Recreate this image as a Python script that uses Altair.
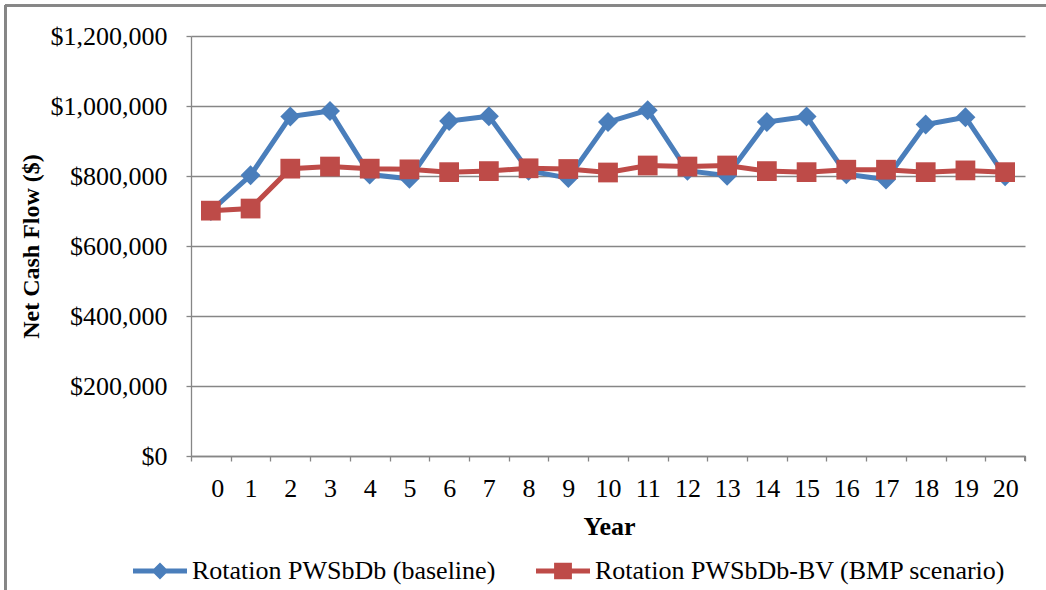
import altair as alt
import pandas as pd

# Net cash flow by year for the two crop rotations
years = list(range(21))
baseline = [700000, 802000, 970000, 986000, 804000, 792000, 957000, 971000,
            815000, 794000, 954000, 988000, 815000, 801000, 954000, 970000,
            805000, 790000, 947000, 968000, 799000]
bmp = [701000, 707000, 821000, 827000, 821000, 819000, 811000, 814000,
       822000, 820000, 810000, 830000, 827000, 830000, 814000, 811000,
       818000, 818000, 811000, 816000, 811000]

series_names = ["Rotation PWSbDb (baseline)", "Rotation PWSbDb-BV (BMP scenario)"]
colors = ["#4A7EBB", "#BE4B48"]

df = pd.concat([
    pd.DataFrame({"Year": years, "Value": baseline, "Series": series_names[0]}),
    pd.DataFrame({"Year": years, "Value": bmp, "Series": series_names[1]}),
])

FONT = "Liberation Serif"
AXIS_GRAY = "#868686"
W, H = 834, 420

x_enc = alt.X(
    "Year:Q",
    scale=alt.Scale(domain=[-0.5, 20.5], nice=False, zero=False),
    axis=alt.Axis(
        title="Year",
        values=[i - 0.5 for i in range(22)],
        labelExpr="datum.value > 20 ? '' : format(datum.value + 0.5, 'd')",
        labelOffset=W / 21 / 2,
        labelPadding=14,
        tickSize=5,
        grid=False,
        titleX=418,
        titleY=78,
        titleBaseline="alphabetic",
        titleFont=FONT,
        titleFontSize=26,
        titleFontWeight="bold",
    ),
)
y_enc = alt.Y(
    "Value:Q",
    scale=alt.Scale(domain=[0, 1200000], nice=False),
    axis=alt.Axis(
        title="Net Cash Flow ($)",
        values=[0, 200000, 400000, 600000, 800000, 1000000, 1200000],
        format="$,.0f",
        labelPadding=19,
        tickSize=5,
        grid=True,
        titleX=-153,
        titleY=H / 2,
        titleBaseline="alphabetic",
        titleFont=FONT,
        titleFontSize=24,
        titleFontWeight="bold",
    ),
)

base = alt.Chart(df)


def series_layers(name, color, shape, size):
    sub = base.transform_filter(alt.datum.Series == name)
    line = sub.mark_line(color=color, strokeWidth=5).encode(x=x_enc, y=y_enc)
    pts = sub.mark_point(filled=True, color=color, shape=shape, size=size,
                         opacity=1, strokeWidth=0).encode(x=x_enc, y=y_enc)
    return [line, pts]


# Legend symbols: a short line with the series marker across it
diamond_line = ("M-1,-0.093L1,-0.093L1,0.093L-1,0.093Z "
                "M0,-0.315L0.315,0L0,0.315L-0.315,0Z")
square_line = ("M-1,-0.093L1,-0.093L1,0.093L-1,0.093Z "
               "M-0.33,-0.31L0.33,-0.31L0.33,0.31L-0.33,0.31Z")

legend_props = dict(
    title=None, orient="none", direction="horizontal",
    legendX=-58, legendY=508, padding=0,
    symbolSize=2916, symbolStrokeWidth=0,
    labelFont=FONT, labelFontSize=26, labelColor="black",
    labelOffset=5, columnPadding=40, labelLimit=600,
)

legend_layer = base.transform_filter(alt.datum.Value < 0).mark_point(
    filled=True, opacity=1
).encode(
    x=x_enc,
    y=y_enc,
    color=alt.Color("Series:N",
                    scale=alt.Scale(domain=series_names, range=colors),
                    legend=alt.Legend(**legend_props)),
    shape=alt.Shape("Series:N",
                    scale=alt.Scale(domain=series_names,
                                    range=[diamond_line, square_line]),
                    legend=alt.Legend(**legend_props)),
)

# Closing tick at the right end of the year axis and the chart-area frame
end_tick = alt.Chart(df).mark_rule(color=AXIS_GRAY, strokeWidth=1.3).encode(
    x=alt.value(W), y=alt.value(H), y2=alt.value(H + 5))
frame_top = alt.Chart(df).mark_rule(color=AXIS_GRAY, strokeWidth=1.7).encode(
    x=alt.value(-186), x2=alt.value(1046 - 191), y=alt.value(-30.5))
frame_left = alt.Chart(df).mark_rule(color=AXIS_GRAY, strokeWidth=1.7).encode(
    x=alt.value(-185.5), y=alt.value(-31), y2=alt.value(590 - 36))

layers = (series_layers(series_names[0], colors[0], "diamond", 400)
          + series_layers(series_names[1], colors[1], "square", 390)
          + [legend_layer, end_tick, frame_top, frame_left])

chart = alt.layer(*layers).properties(
    width=W,
    height=H,
    autosize="none",
    padding={"left": 191, "top": 36, "right": 21, "bottom": 134},
    background="white",
).configure(
    font=FONT
).configure_view(
    stroke=None
).configure_axis(
    labelFont=FONT,
    labelFontSize=26,
    labelColor="black",
    titleFont=FONT,
    titleColor="black",
    domainColor=AXIS_GRAY,
    domainWidth=1.3,
    tickColor=AXIS_GRAY,
    tickWidth=1.3,
    gridColor=AXIS_GRAY,
    gridWidth=1.3,
).configure_legend(
    labelFont=FONT,
    labelFontSize=26,
    labelColor="black",
)

chart.save("out.html", embed_options={"renderer": "svg", "actions": False})
